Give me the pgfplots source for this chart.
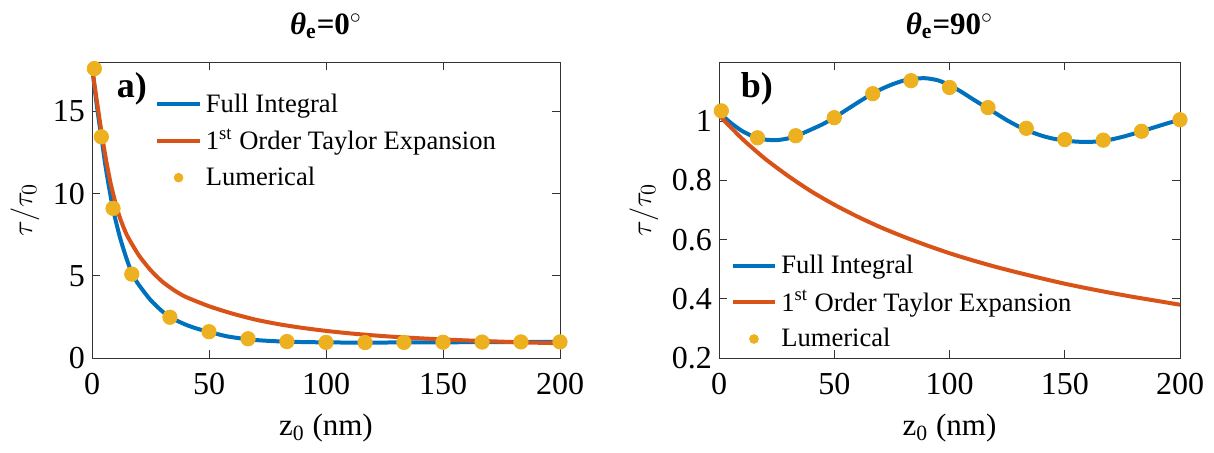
\documentclass[border=0pt]{standalone}
\usepackage{fontspec}
\setmainfont{Liberation Serif}
\usepackage{pgfplots}
\pgfplotsset{compat=1.18}

\definecolor{mblue}{HTML}{0072BD}
\definecolor{morange}{HTML}{D95319}
\definecolor{myellow}{HTML}{EDB120}

% left panel, theta_e = 0
\pgfplotstableread{
z v
0 17.75
1 16.54
2 15.43
3 14.39
4 13.45
6 11.46
9 9.05
12 7.31
15 5.94
17.4 5.06
20 4.45
25 3.53
30 2.84
34 2.43
40 2.03
45 1.78
50.4 1.57
58 1.31
67 1.13
75 1.045
83 0.995
90 0.97
100 0.95
110 0.94
120 0.94
130 0.945
140 0.95
150 0.955
160 0.96
170 0.965
180 0.97
190 0.975
200 0.98
}\fullA
\pgfplotstableread{
z v
0 17.75
1 16.7
2 15.7
3 14.75
4 13.8
5 12.9
6 12.05
7 11.3
8 10.6
10 9.45
12 8.5
15 7.45
20 6.25
25 5.35
30 4.65
35 4.13
40 3.72
50 3.15
60 2.7
70 2.33
80 2.05
90 1.83
100 1.65
110 1.5
120 1.38
130 1.28
140 1.2
150 1.13
160 1.07
170 1.02
180 0.97
190 0.93
200 0.9
}\taylorA
\pgfplotstableread{
z v
1 17.6
4 13.45
9 9.1
17 5.1
33.3 2.48
50 1.6
66.7 1.17
83.3 1.0
100 0.95
116.7 0.94
133.3 0.95
150 0.96
166.7 0.97
183.3 0.98
200 0.98
}\lumA

% right panel, theta_e = 90
\pgfplotstableread{
z v
0 1.03
5 0.995
10 0.967
15 0.948
20 0.938
25 0.936
30 0.942
35 0.955
40 0.972
45 0.99
50 1.012
55 1.037
60 1.062
65 1.086
70 1.107
75 1.124
80 1.137
85 1.144
90 1.145
95 1.138
100 1.122
105 1.10
110 1.075
115 1.051
120 1.027
125 1.003
130 0.982
135 0.965
140 0.951
145 0.941
150 0.935
155 0.931
160 0.930
165 0.932
170 0.938
175 0.947
180 0.958
185 0.970
190 0.982
195 0.994
200 1.005
}\fullB
\pgfplotstableread{
z v
0 1.02
10 0.941
20 0.873
30 0.815
40 0.763
50 0.718
60 0.678
70 0.642
80 0.610
90 0.581
100 0.554
110 0.530
120 0.508
130 0.488
140 0.469
150 0.451
160 0.435
170 0.420
180 0.406
190 0.393
200 0.380
}\taylorB
\pgfplotstableread{
z v
1 1.035
16.7 0.944
33.3 0.951
50 1.012
66.7 1.093
83.3 1.137
100 1.114
116.7 1.046
133.3 0.976
150 0.938
166.7 0.936
183.3 0.966
200 1.005
}\lumB

\pgfplotsset{
  panel/.style={
    scale only axis, height=148pt,
    xmin=0, xmax=200, xtick={0,50,100,150,200},
    tick align=inside, major tick length=4pt,
    axis line style={draw=black!80, line width=0.5pt},
    tick style={black!80, line width=0.5pt},
    /pgf/number format/assume math mode=true,
    tick label style={font=\fontsize{16}{17}\selectfont},
    xticklabel style={yshift=-4pt},
    label style={font=\fontsize{15.5}{17}\selectfont},
    xlabel={z\textsubscript{0} (nm)},
    xlabel style={yshift=-3pt},
    ylabel={$\tau/\tau_0$},
    title style={font=\bfseries\fontsize{15.5}{17}\selectfont, yshift=2pt},
    legend style={draw=none, fill=none, font=\fontsize{13.3}{15}\selectfont,
      legend cell align=left, inner sep=1pt, row sep=3pt},
    clip=false,
  },
  curve/.style={line width=2pt, no marks, smooth, tension=0.4,
    legend image code/.code={\draw[##1] (0cm,0cm) -- (0.75cm,0cm);}},
  dots/.style={only marks, mark=*, mark size=3.6pt,
    mark options={draw=myellow, fill=myellow},
    legend image code/.code={\fill[myellow] (0.375cm,0cm) circle (2.2pt);}},
}

\begin{document}
\begin{tikzpicture}
\useasboundingbox (0,0) rectangle (607pt,226pt);

\begin{axis}[panel, at={(46pt,47pt)}, anchor=south west, width=234pt,
  ymin=0, ymax=18, ytick={0,5,10,15},
  title={\textit{θ}\textsubscript{e}=0$^{\circ}$},
  legend style={at={(0.13,0.915)}, anchor=north west}]
\addplot[curve, mblue] table {\fullA};
\addlegendentry{Full Integral}
\addplot[curve, morange] table {\taylorA};
\addlegendentry{1\textsuperscript{st} Order Taylor Expansion}
\addplot[dots] table {\lumA};
\addlegendentry{Lumerical}
\node[font=\bfseries\fontsize{18}{20}\selectfont] at (rel axis cs:0.085,0.91) {a)};
\end{axis}

\begin{axis}[panel, at={(359.5pt,47pt)}, anchor=south west, width=230.5pt,
  ymin=0.2, ymax=1.2, ytick={0.2,0.4,0.6,0.8,1},
  title={\textit{θ}\textsubscript{e}=90$^{\circ}$},
  legend style={at={(0.02,0.37)}, anchor=north west}]
\addplot[curve, mblue] table {\fullB};
\addlegendentry{Full Integral}
\addplot[curve, morange] table {\taylorB};
\addlegendentry{1\textsuperscript{st} Order Taylor Expansion}
\addplot[dots] table {\lumB};
\addlegendentry{Lumerical}
\node[font=\bfseries\fontsize{18}{20}\selectfont] at (rel axis cs:0.082,0.91) {b)};
\end{axis}
\end{tikzpicture}
\end{document}
